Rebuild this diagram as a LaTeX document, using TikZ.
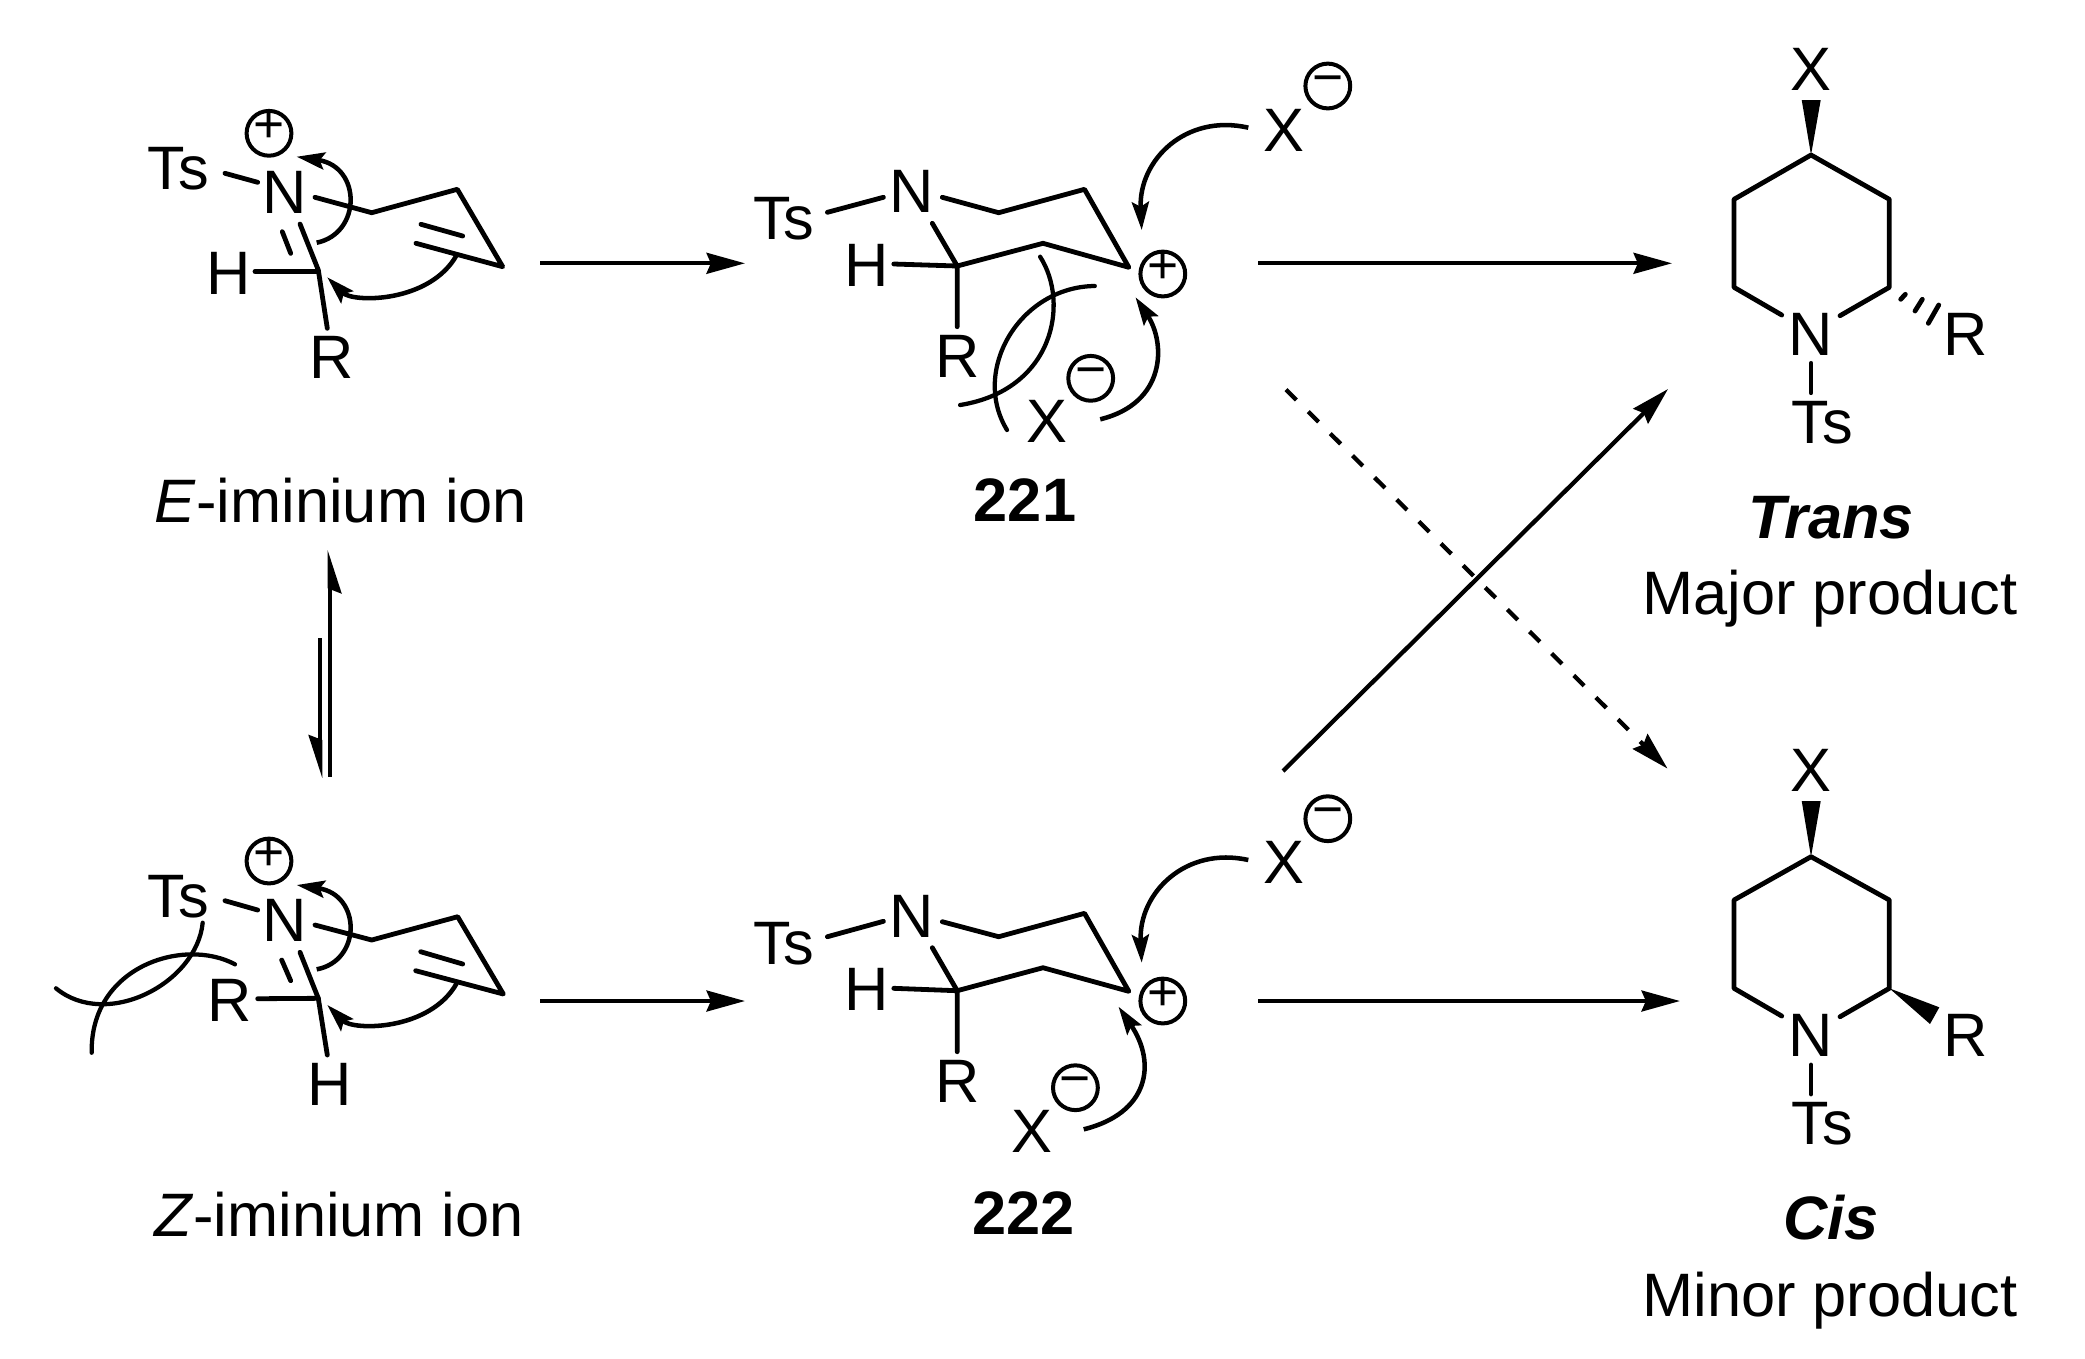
\documentclass[tikz,border=0pt]{standalone}
\usepackage{fontspec}
\setmainfont{Liberation Sans}
\usetikzlibrary{arrows.meta}
\tikzset{
  atom/.style={inner sep=0pt, font=\fontsize{23}{27}\selectfont},
  caption/.style={inner sep=0pt, anchor=base, font=\fontsize{23}{27}\selectfont},
  charge/.style={circle, draw, line width=1.5pt, inner sep=0pt, minimum size=16.8pt, text height=0.68em, text depth=0pt, font=\fontsize{20}{22}\selectfont},
  bond/.style={line width=1.8pt, line cap=round, line join=round},
  curly/.style={line width=1.7pt, -{Stealth[length=10.5pt, width=6.4pt, inset=1.8pt]}},
  steric/.style={line width=1.6pt, line cap=round},
  rxn/.style={line width=1.6pt, -{Stealth[length=14.4pt, width=7.8pt, inset=1.6pt]}},
  eqm/.style={line width=1.7pt, -{Stealth[harpoon, swap, length=13.5pt, width=8.5pt, inset=1.5pt]}}
}
\begin{document}
\begin{tikzpicture}[x=0.375pt, y=-0.375pt]
  \useasboundingbox (0,0) rectangle (2085,1358);

  \node[atom] (ets) at (178,169) {Ts};
  \node[atom] (en) at (285,192) {N};
  \node[atom] (eh) at (229,273) {H};
  \node[atom] (er) at (331.7,357) {R};
  \node[charge] (epl) at (269,133.3) {+};
  \coordinate (eb1) at (225,173.3); \coordinate (eb2) at (257.7,182.3);
  \coordinate (e1) at (315,197.3); \coordinate (e2) at (371.7,212.7); \coordinate (e3) at (457.3,189.3);
  \coordinate (e4) at (502.7,266.7); \coordinate (e5) at (416,243.3);
  \coordinate (e6) at (421,224.3); \coordinate (e7) at (462.7,236);
  \coordinate (ec) at (318.3,270); \coordinate (e8) at (300,224);
  \coordinate (e9) at (282.3,231.7); \coordinate (e10) at (290.7,253.3);
  \coordinate (e11) at (255,271.3); \coordinate (e12) at (318.3,271.3); \coordinate (e13) at (327.3,328.3);
  \draw[bond] (eb1) -- (eb2);
  \draw[bond] (e1) -- (e2) -- (e3) -- (e4) -- (e5);
  \draw[bond] (e6) -- (e7);
  \draw[bond] (e8) -- (ec) -- (e13);
  \draw[bond] (e9) -- (e10);
  \draw[bond] (e11) -- (e12);
  \coordinate (ea1) at (316.7,242.7); \coordinate (ea2) at (296.7,156.7);
  \coordinate (ea3) at (456.7,255); \coordinate (ea4) at (327.3,277.3);
  \draw[curly] (ea1) .. controls (361.7,233.3) and (361.7,166.7) .. (ea2);
  \draw[curly] (ea3) .. controls (430,303) and (353,303) .. (ea4);
  \node[caption] (ecap) at (341,522.6) {\textit{E}-iminium ion};

  \node[atom] (ats) at (783.9,219) {Ts};
  \node[atom] (an) at (911.6,191.7) {N};
  \node[atom] (ah) at (866.8,265) {H};
  \node[atom] (ar) at (957.2,356.7) {R};
  \node[charge] (apl) at (1162.8,274) {+};
  \node[atom] (ax1) at (1284.3,130) {X};
  \node[charge] (ami1) at (1327.8,86) {−};
  \node[atom] (ax2) at (1047.2,421.7) {X};
  \node[charge] (ami2) at (1090.7,378.3) {−};
  \coordinate (ab1) at (827.4,212.3); \coordinate (ab2) at (883.4,197.3);
  \coordinate (a1) at (942.3,197.3); \coordinate (a2) at (998.7,212.7); \coordinate (a3) at (1084.5,189.3);
  \coordinate (a4) at (1128.8,267.3); \coordinate (a5) at (1043,243.3); \coordinate (a6) at (957.2,266);
  \coordinate (a7) at (932.3,223.3); \coordinate (a8) at (893.8,264); \coordinate (a9) at (957.2,326.7);
  \draw[bond] (ab1) -- (ab2);
  \draw[bond] (a1) -- (a2) -- (a3) -- (a4) -- (a5) -- (a6) -- (a7);
  \draw[bond] (a8) -- (a6) -- (a9);
  \coordinate (aa1) at (1248.3,127.7); \coordinate (aa2) at (1141.7,230);
  \coordinate (aa3) at (1100.2,419.3); \coordinate (aa4) at (1135.5,297.3);
  \draw[curly] (aa1) .. controls (1186,113.3) and (1138.4,160) .. (aa2);
  \draw[curly] (aa3) .. controls (1166,403.3) and (1166,343.3) .. (aa4);
  \coordinate (as1) at (1040.1,256.7); \coordinate (as2) at (960.1,405);
  \coordinate (as3) at (1094.8,286); \coordinate (as4) at (1007,430);
  \draw[steric] (as1) .. controls (1070,303.3) and (1053.4,390) .. (as2);
  \draw[steric] (as3) .. controls (1020.2,286.7) and (970.5,370) .. (as4);
  \node[caption] (acap) at (1025,521) {\textbf{221}};

  \node[atom] (tx) at (1810.7,69) {X};
  \node[atom] (tn) at (1810.7,334) {N};
  \node[atom] (tr) at (1966,334) {R};
  \node[atom] (tts) at (1822.3,423) {Ts};
  \coordinate (t1) at (1840,315.7); \coordinate (t2) at (1889.3,287.3); \coordinate (t3) at (1889.3,199.3);
  \coordinate (t4) at (1811,155); \coordinate (t5) at (1734,199.3); \coordinate (t6) at (1734,287.3);
  \coordinate (t7) at (1781.7,315); \coordinate (t8) at (1811,363.3); \coordinate (t9) at (1811,392.7);
  \coordinate (tw1) at (1801.7,100); \coordinate (tw2) at (1820.7,100);
  \coordinate (th1) at (1900.7,299.3); \coordinate (th2) at (1905.3,294.3);
  \coordinate (th3) at (1915,311); \coordinate (th4) at (1922.3,299.3);
  \coordinate (th5) at (1928.3,323.3); \coordinate (th6) at (1938.7,305);
  \draw[bond] (t1) -- (t2) -- (t3) -- (t4) -- (t5) -- (t6) -- (t7);
  \draw[bond] (t8) -- (t9);
  \fill (t4) -- (tw1) -- (tw2) -- cycle;
  \draw[bond] (th1) -- (th2);
  \draw[bond] (th3) -- (th4);
  \draw[bond] (th5) -- (th6);
  \node[caption] (tcap1) at (1831,538.5) {\textbf{\textit{Trans}}};
  \node[caption] (tcap2) at (1830,614) {Major product};

  \node[atom] (zts) at (178,897) {Ts};
  \node[atom] (zn) at (285,920) {N};
  \node[atom] (zr) at (230,1000.7) {R};
  \node[atom] (zh) at (330,1084) {H};
  \node[charge] (zpl) at (269,861) {+};
  \coordinate (zb1) at (225,900.7); \coordinate (zb2) at (257.7,910);
  \coordinate (z1) at (315,925); \coordinate (z2) at (371.7,940); \coordinate (z3) at (457.7,916.7);
  \coordinate (z4) at (503.3,994); \coordinate (z5) at (415.7,970.7);
  \coordinate (z6) at (420.7,951.7); \coordinate (z7) at (462.7,964);
  \coordinate (zc) at (318.3,998.3); \coordinate (z8) at (300,952.3);
  \coordinate (z9) at (281.7,960); \coordinate (z10) at (290.7,980.7);
  \coordinate (z11) at (257.7,998.7); \coordinate (z12) at (327.3,1055);
  \draw[bond] (zb1) -- (zb2);
  \draw[bond] (z1) -- (z2) -- (z3) -- (z4) -- (z5);
  \draw[bond] (z6) -- (z7);
  \draw[bond] (z8) -- (zc) -- (z12);
  \draw[bond] (z9) -- (z10);
  \draw[bond] (z11) -- (zc);
  \coordinate (za1) at (316.7,969.3); \coordinate (za2) at (296.7,885);
  \coordinate (za3) at (456.7,983.3); \coordinate (za4) at (327.3,1005);
  \draw[curly] (za1) .. controls (361.7,961) and (361.7,894.7) .. (za2);
  \draw[curly] (za3) .. controls (430,1031) and (353,1031) .. (za4);
  \coordinate (zs1) at (202.7,922.7); \coordinate (zs2) at (56,988.3);
  \coordinate (zs3) at (235,964.3); \coordinate (zs4) at (91.7,1052.7);
  \draw[steric] (zs1) .. controls (196.7,983.3) and (106.7,1030) .. (zs2);
  \draw[steric] (zs3) .. controls (183.3,936.7) and (90,966.7) .. (zs4);
  \node[caption] (zcap) at (339,1236.6) {\textit{Z}-iminium ion};

  \node[atom] (bts) at (783.9,944) {Ts};
  \node[atom] (bn) at (911.6,916.7) {N};
  \node[atom] (bh) at (866.8,989.3) {H};
  \node[atom] (br) at (957.2,1081.7) {R};
  \node[charge] (bpl) at (1162.8,1001) {+};
  \node[atom] (bx1) at (1284.3,862) {X};
  \node[charge] (bmi1) at (1327.8,818.7) {−};
  \node[atom] (bx2) at (1031.8,1131.7) {X};
  \node[charge] (bmi2) at (1075.4,1087.7) {−};
  \coordinate (bb1) at (827.4,936.7); \coordinate (bb2) at (883.4,921.3);
  \coordinate (b1) at (942.3,921.7); \coordinate (b2) at (998.7,936.7); \coordinate (b3) at (1084.5,913.3);
  \coordinate (b4) at (1128.8,991.3); \coordinate (b5) at (1043,967.7); \coordinate (b6) at (957.2,990.7);
  \coordinate (b7) at (932.3,947.7); \coordinate (b8) at (893.8,988.3); \coordinate (b9) at (957.2,1051.7);
  \draw[bond] (bb1) -- (bb2);
  \draw[bond] (b1) -- (b2) -- (b3) -- (b4) -- (b5) -- (b6) -- (b7);
  \draw[bond] (b8) -- (b6) -- (b9);
  \coordinate (ba1) at (1248.3,860); \coordinate (ba2) at (1141.7,962.7);
  \coordinate (ba3) at (1083.7,1129.3); \coordinate (ba4) at (1118.5,1006.7);
  \draw[curly] (ba1) .. controls (1186,846) and (1138.4,892.7) .. (ba2);
  \draw[curly] (ba3) .. controls (1148.7,1113.3) and (1157,1063.3) .. (ba4);
  \node[caption] (bcap) at (1023.5,1234) {\textbf{222}};

  \node[atom] (cx) at (1810.7,770.3) {X};
  \node[atom] (cn) at (1810.7,1035) {N};
  \node[atom] (cr) at (1966,1035.3) {R};
  \node[atom] (cts) at (1822.3,1124) {Ts};
  \coordinate (c1) at (1840,1016.7); \coordinate (c2) at (1889.3,988.3); \coordinate (c3) at (1889.3,900);
  \coordinate (c4) at (1811,856.7); \coordinate (c5) at (1734,900); \coordinate (c6) at (1734,988.3);
  \coordinate (c7) at (1781.7,1016); \coordinate (c8) at (1811,1065); \coordinate (c9) at (1811,1094);
  \coordinate (cw1) at (1801.7,801); \coordinate (cw2) at (1820.7,801);
  \coordinate (cw3) at (1939.3,1007.3); \coordinate (cw4) at (1930,1024);
  \draw[bond] (c1) -- (c2) -- (c3) -- (c4) -- (c5) -- (c6) -- (c7);
  \draw[bond] (c8) -- (c9);
  \fill (c4) -- (cw1) -- (cw2) -- cycle;
  \fill (c2) -- (cw3) -- (cw4) -- cycle;
  \node[caption] (ccap1) at (1831,1239) {\textbf{\textit{Cis}}};
  \node[caption] (ccap2) at (1830,1316) {Minor product};

  \coordinate (r1) at (540,263.3); \coordinate (r2) at (745,263.3);
  \coordinate (r3) at (540,1001); \coordinate (r4) at (745,1001);
  \coordinate (r5) at (1258,263.3); \coordinate (r6) at (1672,263.3);
  \coordinate (r7) at (1258,1001); \coordinate (r8) at (1680,1001);
  \coordinate (r9) at (1283,771); \coordinate (r10) at (1668,389);
  \coordinate (r11) at (1286,389.6); \coordinate (r12) at (1667.5,768.6);
  \coordinate (q1) at (330,776.7); \coordinate (q2) at (330,550);
  \coordinate (q3) at (320,638.3); \coordinate (q4) at (320,778.3);
  \draw[rxn] (r1) -- (r2);
  \draw[rxn] (r3) -- (r4);
  \draw[rxn] (r5) -- (r6);
  \draw[rxn] (r7) -- (r8);
  \draw[rxn] (r9) -- (r10);
  \draw[rxn, dash pattern=on 5.5pt off 6.2pt] (r11) -- (r12);
  \draw[eqm] (q1) -- (q2);
  \draw[eqm] (q3) -- (q4);
\end{tikzpicture}
\end{document}
